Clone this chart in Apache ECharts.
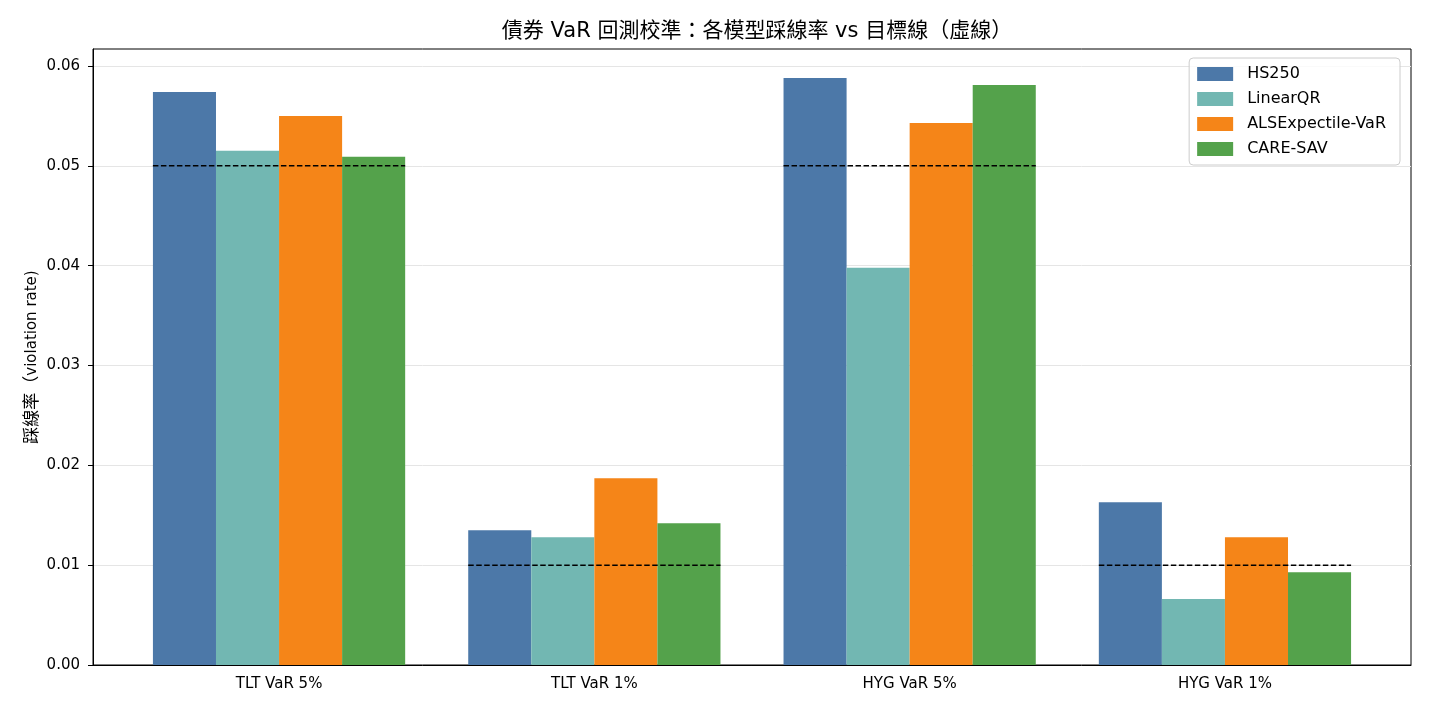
<!DOCTYPE html>
<html><head><meta charset="utf-8">
<script src="https://cdn.jsdelivr.net/npm/echarts@6/dist/echarts.min.js"></script>
<style>html,body{margin:0;padding:0;background:#fff}#c{width:1430px;height:715px}</style>
</head><body><div id="c"></div>
<script>
const categories = ['TLT VaR 5%', 'TLT VaR 1%', 'HYG VaR 5%', 'HYG VaR 1%'];
const seriesNames = ['HS250', 'LinearQR', 'ALSExpectile-VaR', 'CARE-SAV'];
const hs250 = [0.0574, 0.0135, 0.0588, 0.0163];
const linearQR = [0.0515, 0.0128, 0.0398, 0.0066];
const alsExpectile = [0.0550, 0.0187, 0.0543, 0.0128];
const careSav = [0.0509, 0.0142, 0.0581, 0.0093];
const targets = [0.05, 0.01, 0.05, 0.01];
const yTicks = [0, 0.01, 0.02, 0.03, 0.04, 0.05, 0.06];

const colors = ['#4c78a8', '#72b7b2', '#f58518', '#54a24b'];
const values = [hs250, linearQR, alsExpectile, careSav];
const FONT = '"DejaVu Sans", "Noto Sans CJK TC", sans-serif';
const yMax = 0.0617;

const chart = echarts.init(document.getElementById('c'), null, {renderer: 'canvas'});
const barSeries = values.map((v, i) => ({
  name: seriesNames[i], type: 'bar', xAxisIndex: 1, yAxisIndex: 1,
  data: v, barGap: 0, barCategoryGap: '20%',
  itemStyle: {color: colors[i]}, z: 2, silent: true
}));
const targetSeries = targets.map((t, i) => ({
  type: 'line', xAxisIndex: 0, yAxisIndex: 0, symbol: 'none', silent: true, z: 5,
  data: [[i - 0.4, t], [i + 0.4, t]],
  lineStyle: {color: '#000', width: 1.5, type: [5.5, 2.5]}
}));

chart.setOption({
  animation: false,
  textStyle: {fontFamily: FONT},
  title: {
    text: '債券 VaR 回測校準：各模型踩線率 vs 目標線（虛線）',
    left: 752, textAlign: 'center', top: 16,
    textStyle: {fontFamily: FONT, fontSize: 21, fontWeight: 'normal', color: '#000'}
  },
  legend: {
    data: seriesNames, orient: 'vertical', right: 30, top: 58, z: 20,
    padding: [8, 14, 8, 8], itemWidth: 36, itemHeight: 14, itemGap: 9,
    borderColor: '#cccccc', borderWidth: 1, borderRadius: 4,
    backgroundColor: 'rgba(255,255,255,0.8)',
    textStyle: {fontFamily: FONT, fontSize: 16, color: '#000', padding: [0, 0, 0, 9]},
    icon: 'rect'
  },
  grid: [
    {left: 93, right: 19, top: 49, bottom: 50, show: true, borderColor: '#000', borderWidth: 1, backgroundColor: 'transparent'},
    {left: 121.4, right: 47.4, top: 49, bottom: 50}
  ],
  xAxis: [
    {type: 'value', gridIndex: 0, min: -0.59, max: 3.59, z: 10,
     axisLine: {show: true, onZero: false, lineStyle: {color: '#000', width: 1}},
     axisTick: {show: false}, axisLabel: {show: false}, splitLine: {show: false}},
    {type: 'category', gridIndex: 1, data: categories,
     axisLine: {show: false}, splitLine: {show: false},
     axisTick: {alignWithLabel: true, length: 5, lineStyle: {color: '#000'}, interval: 0},
     axisLabel: {color: '#000', fontSize: 15, margin: 12, fontFamily: FONT}}
  ],
  yAxis: [
    {type: 'value', gridIndex: 0, min: 0, max: yMax,
     name: '{c|踩線率（}{l|violation rate)}', nameLocation: 'middle', nameGap: 52, nameMoveOverlap: false,
     nameTextStyle: {fontFamily: FONT, color: '#000',
       rich: {c: {fontSize: 17, fontFamily: FONT, color: '#000'}, l: {fontSize: 15, fontFamily: FONT, color: '#000'}}},
     axisLine: {show: true, onZero: false, lineStyle: {color: '#000'}},
     axisTick: {show: true, length: 5, lineStyle: {color: '#000'}, customValues: yTicks},
     axisLabel: {color: '#000', fontSize: 15, margin: 13, customValues: yTicks, formatter: v => v.toFixed(2)},
     splitLine: {show: true, lineStyle: {color: '#e5e5e5', width: 1}}},
    {type: 'value', gridIndex: 1, min: 0, max: yMax, show: false, splitLine: {show: false}}
  ],
  series: [...barSeries, ...targetSeries]
});
</script></body></html>
